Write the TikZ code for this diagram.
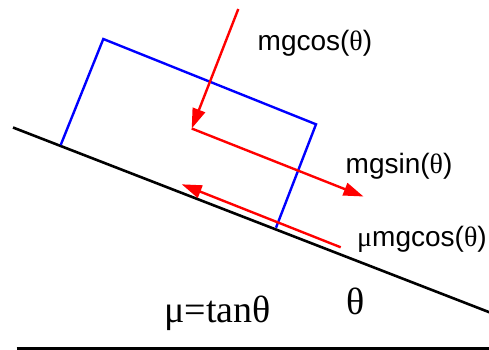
\documentclass[tikz,border=0pt]{standalone}
\usepackage{fontspec}
\setmainfont{Liberation Serif}
\setsansfont{Liberation Sans}
\usetikzlibrary{arrows.meta}
\newcommand{\thq}{{\rmfamily θ}}
\begin{document}
\begin{tikzpicture}[x=1pt,y=-1pt,
  incline/.style={line width=2.6pt,black},
  blockline/.style={line width=2.4pt,blue},
  force/.style={line width=2.4pt,red,-{Triangle[length=20pt,width=13pt]}},
  flabel/.style={anchor=base west,inner sep=0pt,font=\sffamily\fontsize{28}{28}\selectfont},
  slabel/.style={anchor=base west,inner sep=0pt,font=\rmfamily\fontsize{38}{38}\selectfont}]
\useasboundingbox (0,0) rectangle (489,350);
% incline and ground
\coordinate (i1) at (13,127.5);
\coordinate (i2) at (490,312.5);
\coordinate (g1) at (16.5,348);
\coordinate (g2) at (490,348);
\draw[incline] (i1) -- (i2);
\draw[line width=3pt] (g1) -- (g2);
% block
\coordinate (b1) at (60.7,145);
\coordinate (b2) at (103.3,39);
\coordinate (b3) at (316,124.3);
\coordinate (b4) at (276,227.7);
\draw[blockline,line join=miter] (b1) -- (b2) -- (b3) -- (b4);
% forces
\coordinate (n0) at (238.3,9);
\coordinate (c) at (191.7,128.5);
\coordinate (s1) at (363.5,196.5);
\coordinate (f0) at (340.7,247.3);
\coordinate (f1) at (181.7,184.3);
\draw[force] (n0) -- (c);
\draw[force] (c) -- (s1);
\draw[force] (f0) -- (f1);
% labels
\node[flabel] (lcos) at (257.5,50.7) {mgcos(\thq)};
\node[flabel] (lsin) at (345.5,173.3) {mgsin(\thq)};
\node[flabel] (lmu) at (357,246.7) {{\rmfamily μ}mgcos(\thq)};
\node[slabel] (ltan) at (164,322.3) {μ=tanθ};
\node[slabel] (lth) at (346,314) {θ};
\end{tikzpicture}
\end{document}
